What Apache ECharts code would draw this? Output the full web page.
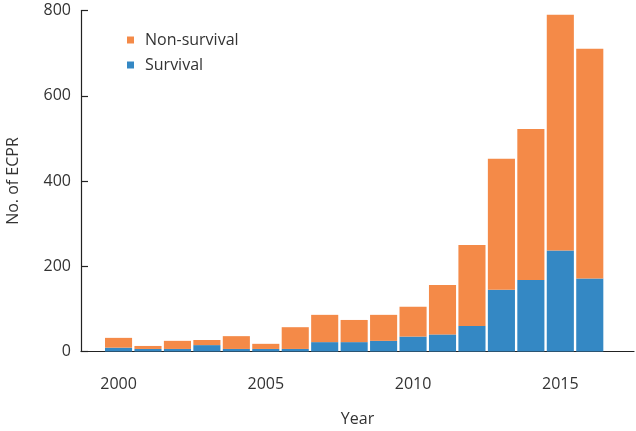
<!DOCTYPE html>
<html>
<head>
<meta charset="utf-8">
<script src="https://cdn.jsdelivr.net/npm/echarts@6/dist/echarts.min.js"></script>
<style>html,body{margin:0;padding:0;background:#fff}#c{width:636px;height:431px}</style>
</head>
<body>
<div id="c"></div>
<script>
const years = ['2000','2001','2002','2003','2004','2005','2006','2007','2008','2009','2010','2011','2012','2013','2014','2015','2016'];
const survival = [9,6,6,15,6,6,6,22,22,25,35,40,60,145,168,237,171];
const nonSurvival = [23,7,19,12,30,12,51,64,52,61,70,116,190,307,354,553,539];
const xTickLabels = ['2000','2005','2010','2015'];
const yTicks = [0,200,400,600,800];

const FONT = '"Open Sans", "Noto Sans", sans-serif';
const TXT = '#333';
const chart = echarts.init(document.getElementById('c'));
const yMin = yTicks[0], yMax = yTicks[yTicks.length-1];
chart.setOption({
  animation: false,
  backgroundColor: '#fff',
  textStyle: {fontFamily: FONT},
  grid: [
    {left: 81, right: 2, top: 10.5, bottom: 79.5, containLabel: false, outerBoundsMode: 'none'},
    {left: 103.8, right: 31.5, top: 10.5, bottom: 79.5, containLabel: false, outerBoundsMode: 'none'}
  ],
  legend: {
    orient: 'vertical', left: 122, top: 27,
    itemWidth: 7, itemHeight: 7, itemGap: 9,
    icon: 'rect',
    data: ['Non-survival', 'Survival'],
    textStyle: {fontSize: 16, color: TXT, fontFamily: FONT, padding: [0,0,0,6]}
  },
  xAxis: [
    {
      gridIndex: 0, type: 'value', min: 0, max: 1,
      name: 'Year', nameLocation: 'middle', nameGap: 60,
      nameTextStyle: {fontSize: 16, color: TXT, fontFamily: FONT},
      axisLine: {show: true, lineStyle: {color: '#222', width: 1.2}},
      axisTick: {show: false}, splitLine: {show: false}, axisLabel: {show: false}
    },
    {
      gridIndex: 1, type: 'category', data: years,
      axisLine: {show: false}, axisTick: {show: false}, splitLine: {show: false},
      axisLabel: {interval: (i, v) => xTickLabels.includes(v), margin: 25,
        fontSize: 16, color: TXT, fontFamily: FONT}
    }
  ],
  yAxis: [
    {
      gridIndex: 0, type: 'value', min: yMin, max: yMax, interval: 200,
      name: 'No. of ECPR', nameLocation: 'middle', nameGap: 60,
      nameTextStyle: {fontSize: 16, color: TXT, fontFamily: FONT},
      axisLine: {show: true, lineStyle: {color: '#222', width: 1.2}},
      axisTick: {show: true, inside: true, length: 7, lineStyle: {color: '#222', width: 1.2}},
      splitLine: {show: false},
      axisLabel: {margin: 10, fontSize: 16, color: TXT, fontFamily: FONT}
    },
    {
      gridIndex: 1, type: 'value', min: yMin, max: yMax, interval: 200, show: false
    }
  ],
  series: [
    {name: 'Survival', type: 'bar', stack: 'a', xAxisIndex: 1, yAxisIndex: 1,
     barCategoryGap: '8%',
     itemStyle: {color: '#3488c4'}, data: survival},
    {name: 'Non-survival', type: 'bar', stack: 'a', xAxisIndex: 1, yAxisIndex: 1,
     barCategoryGap: '8%',
     itemStyle: {color: '#f48a48'}, data: nonSurvival}
  ]
});
</script>
</body>
</html>
